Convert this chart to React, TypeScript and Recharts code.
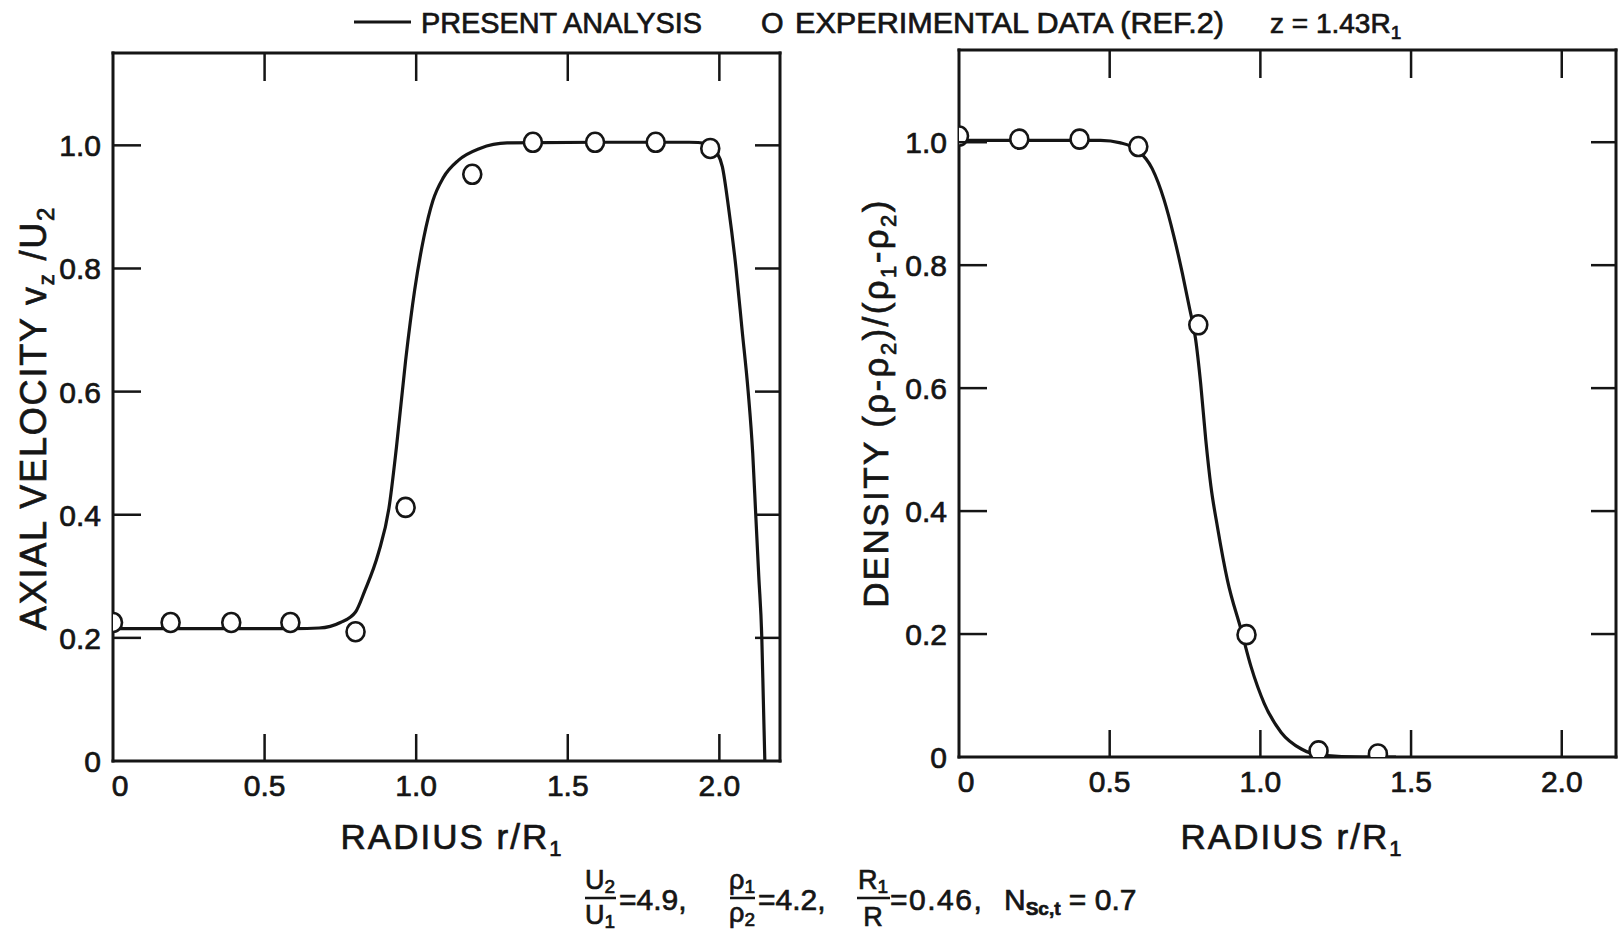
import React from "react";
import { ComposedChart, Line, Scatter, XAxis, YAxis } from "recharts";

const INK = "#151515";
const FONT = '"Liberation Sans", Arial, sans-serif';

// shared tick values
const xTicks = [0, 0.5, 1.0, 1.5, 2.0];
const yTicks = [0, 0.2, 0.4, 0.6, 0.8, 1.0];

// left panel: axial velocity vz/U2, present analysis
const velocityCurve = [
  { x: 0, y: 0.215 },
  { x: 0.3, y: 0.215 },
  { x: 0.6, y: 0.215 },
  { x: 0.68, y: 0.216 },
  { x: 0.75, y: 0.225 },
  { x: 0.8, y: 0.242 },
  { x: 0.83, y: 0.276 },
  { x: 0.875, y: 0.337 },
  { x: 0.91, y: 0.41 },
  { x: 0.935, y: 0.51 },
  { x: 0.965, y: 0.65 },
  { x: 0.995, y: 0.765 },
  { x: 1.025, y: 0.85 },
  { x: 1.055, y: 0.91 },
  { x: 1.09, y: 0.948 },
  { x: 1.14, y: 0.976 },
  { x: 1.21, y: 0.995 },
  { x: 1.3, y: 1.004 },
  { x: 1.6, y: 1.005 },
  { x: 1.9, y: 1.005 },
  { x: 1.96, y: 1.003 },
  { x: 1.99, y: 0.99 },
  { x: 2.01, y: 0.965 },
  { x: 2.03, y: 0.9 },
  { x: 2.055, y: 0.8 },
  { x: 2.075, y: 0.7 },
  { x: 2.095, y: 0.6 },
  { x: 2.11, y: 0.5 },
  { x: 2.12, y: 0.4 },
  { x: 2.13, y: 0.3 },
  { x: 2.14, y: 0.2 },
  { x: 2.145, y: 0.1 },
  { x: 2.15, y: 0 },
];

// left panel: experimental data (ref. 2)
const velocityPoints = [
  { x: 0, y: 0.225 },
  { x: 0.19, y: 0.225 },
  { x: 0.39, y: 0.225 },
  { x: 0.585, y: 0.225 },
  { x: 0.8, y: 0.21 },
  { x: 0.965, y: 0.412 },
  { x: 1.185, y: 0.953 },
  { x: 1.385, y: 1.005 },
  { x: 1.59, y: 1.005 },
  { x: 1.79, y: 1.005 },
  { x: 1.97, y: 0.995 },
];

// right panel: density (rho-rho2)/(rho1-rho2), present analysis
const densityCurve = [
  { x: 0, y: 1.003 },
  { x: 0.3, y: 1.003 },
  { x: 0.47, y: 1.003 },
  { x: 0.536, y: 0.999 },
  { x: 0.593, y: 0.987 },
  { x: 0.641, y: 0.957 },
  { x: 0.68, y: 0.907 },
  { x: 0.713, y: 0.847 },
  { x: 0.741, y: 0.787 },
  { x: 0.765, y: 0.73 },
  { x: 0.785, y: 0.68 },
  { x: 0.802, y: 0.607 },
  { x: 0.819, y: 0.515 },
  { x: 0.836, y: 0.44 },
  { x: 0.858, y: 0.373 },
  { x: 0.891, y: 0.287 },
  { x: 0.936, y: 0.207 },
  { x: 0.969, y: 0.147 },
  { x: 1.013, y: 0.087 },
  { x: 1.069, y: 0.04 },
  { x: 1.136, y: 0.013 },
  { x: 1.2, y: 0.003 },
  { x: 1.34, y: 0 },
  { x: 1.45, y: 0 },
];

// right panel: experimental data (ref. 2)
const densityPoints = [
  { x: 0, y: 1.01 },
  { x: 0.2, y: 1.005 },
  { x: 0.4, y: 1.005 },
  { x: 0.595, y: 0.993 },
  { x: 0.794, y: 0.703 },
  { x: 0.954, y: 0.199 },
  { x: 1.193, y: 0.01 },
  { x: 1.39, y: 0.005 },
];

const fmt = (v: number) => (v === 0 ? "0" : v.toFixed(1));
const axisLine = { stroke: INK, strokeWidth: 3, strokeLinecap: "square" as const };
// a thin outline makes the lettering a bit heavier, like the original
const txt = { fontFamily: FONT, fill: INK, stroke: INK, strokeWidth: 0.7 } as const;

// ticks are drawn inward, like the original frame
const BottomTick = ({ x, y, payload }: any) => {
  const v = payload.value;
  return (
    <g>
      {v !== 0 && <line x1={x} x2={x} y1={y} y2={y - 27} stroke={INK} strokeWidth={2.5} />}
      <text x={v === 0 ? x + 7 : x} y={y + 35} textAnchor="middle" fontSize={30} {...txt}>
        {fmt(v)}
      </text>
    </g>
  );
};

const LeftTick = ({ x, y, payload }: any) => {
  const v = payload.value;
  return (
    <g>
      {v !== 0 && <line x1={x} x2={x + 28} y1={y} y2={y} stroke={INK} strokeWidth={2.5} />}
      <text x={x - 12} y={y + 11} textAnchor="end" fontSize={30} {...txt}>
        {fmt(v)}
      </text>
    </g>
  );
};

const TopTick = ({ x, y, payload }: any) =>
  payload.value === 0 ? <g /> : <line x1={x} x2={x} y1={y} y2={y + 28} stroke={INK} strokeWidth={2.5} />;

const RightTick = ({ x, y, payload }: any) =>
  payload.value === 0 ? <g /> : <line x1={x} x2={x - 25} y1={y} y2={y} stroke={INK} strokeWidth={2.5} />;

const Ring = (props: any) => (
  <ellipse cx={props.cx} cy={props.cy} rx={9} ry={9.5} fill="#fff" stroke={INK} strokeWidth={2.6} />
);

function Panel({
  curve,
  points,
  xMax,
  width,
  height,
  leftW,
  rightW,
  topH,
}: {
  curve: { x: number; y: number }[];
  points: { x: number; y: number }[];
  xMax: number;
  width: number;
  height: number;
  leftW: number;
  rightW: number;
  topH: number;
}) {
  return (
    <ComposedChart
      width={width}
      height={height}
      data={curve}
      margin={{ top: 0, right: 0, bottom: 0, left: 0 }}
    >
      <XAxis
        dataKey="x"
        type="number"
        domain={[0, xMax]}
        ticks={xTicks}
        interval={0}
        height={100}
        tickSize={0}
        tickMargin={0}
        tickLine={false}
        tick={BottomTick}
        axisLine={axisLine}
        allowDataOverflow
      />
      <XAxis
        xAxisId="top"
        dataKey="x"
        orientation="top"
        type="number"
        domain={[0, xMax]}
        ticks={xTicks}
        interval={0}
        height={topH}
        tickSize={0}
        tickMargin={0}
        tickLine={false}
        tick={TopTick}
        axisLine={axisLine}
        allowDataOverflow
      />
      <YAxis
        dataKey="y"
        type="number"
        domain={[0, 1.15]}
        ticks={yTicks}
        interval={0}
        width={leftW}
        tickSize={0}
        tickMargin={0}
        tickLine={false}
        tick={LeftTick}
        axisLine={axisLine}
        allowDataOverflow
      />
      <YAxis
        yAxisId="right"
        dataKey="y"
        orientation="right"
        type="number"
        domain={[0, 1.15]}
        ticks={yTicks}
        interval={0}
        width={rightW}
        tickSize={0}
        tickMargin={0}
        tickLine={false}
        tick={RightTick}
        axisLine={axisLine}
        allowDataOverflow
      />
      <Line
        dataKey="y"
        type="monotone"
        stroke={INK}
        strokeWidth={3.2}
        dot={false}
        activeDot={false}
        isAnimationActive={false}
      />
      <Scatter data={points} dataKey="y" shape={Ring} isAnimationActive={false} />
    </ComposedChart>
  );
}

export default function App() {
  return (
    <div
      style={{
        position: "absolute",
        left: 0,
        top: 0,
        width: 1619,
        height: 939,
        background: "#fff",
        overflow: "hidden",
      }}
    >
      <div style={{ position: "absolute", left: 0, top: 0 }}>
        <Panel
          curve={velocityCurve}
          points={velocityPoints}
          xMax={2.2}
          width={800}
          height={861}
          leftW={113}
          rightW={20}
          topH={53}
        />
      </div>
      <div style={{ position: "absolute", left: 839, top: 0 }}>
        <Panel
          curve={densityCurve}
          points={densityPoints}
          xMax={2.18}
          width={780}
          height={857}
          leftW={120}
          rightW={3}
          topH={50}
        />
      </div>

      {/* legend, axis titles, parameters */}
      <svg
        width={1619}
        height={939}
        style={{ position: "absolute", left: 0, top: 0, pointerEvents: "none" }}
      >
        <line x1={354} x2={411} y1={22} y2={22} stroke={INK} strokeWidth={3} />
        <text x={421} y={33} fontSize={29} textLength={281} lengthAdjust="spacingAndGlyphs" {...txt}>
          PRESENT ANALYSIS
        </text>
        <text x={761} y={33} fontSize={29} {...txt}>O</text>
        <text x={795} y={33} fontSize={29} textLength={429} lengthAdjust="spacingAndGlyphs" {...txt}>
          EXPERIMENTAL DATA (REF.2)
        </text>
        <text x={1270} y={33} fontSize={28} {...txt}>
          z = 1.43R<tspan dy={6} fontSize={19}>1</tspan>
        </text>

        <text x={452} y={849} fontSize={35} letterSpacing={2} textAnchor="middle" {...txt}>
          RADIUS r/R<tspan dy={7} fontSize={22}>1</tspan>
        </text>
        <text x={1292} y={849} fontSize={35} letterSpacing={2} textAnchor="middle" {...txt}>
          RADIUS r/R<tspan dy={7} fontSize={22}>1</tspan>
        </text>

        <text
          transform="translate(46,418) rotate(-90)"
          fontSize={36}
          letterSpacing={1.8}
          textAnchor="middle"
          {...txt}
        >
          AXIAL VELOCITY v<tspan dy={8} fontSize={22}>z</tspan>
          <tspan dy={-8}> /U</tspan>
          <tspan dy={8} fontSize={24}>2</tspan>
        </text>
        <text
          transform="translate(888,403) rotate(-90)"
          fontSize={35}
          letterSpacing={2.4}
          textAnchor="middle"
          {...txt}
        >
          DENSITY (ρ-ρ<tspan dy={8} fontSize={22}>2</tspan>
          <tspan dy={-8}>)/(ρ</tspan>
          <tspan dy={8} fontSize={22}>1</tspan>
          <tspan dy={-8}>-ρ</tspan>
          <tspan dy={8} fontSize={22}>2</tspan>
          <tspan dy={-8}>)</tspan>
        </text>

        {/* U2/U1 */}
        <text x={600} y={889} fontSize={27} textAnchor="middle" {...txt}>
          U<tspan dy={4} fontSize={19}>2</tspan>
        </text>
        <line x1={585} x2={616} y1={898} y2={898} stroke={INK} strokeWidth={2.5} />
        <text x={600} y={924} fontSize={27} textAnchor="middle" {...txt}>
          U<tspan dy={4} fontSize={19}>1</tspan>
        </text>
        <text x={619} y={910} fontSize={30} {...txt}>=4.9,</text>

        {/* rho1/rho2 */}
        <text x={742} y={889} fontSize={27} textAnchor="middle" {...txt}>
          ρ<tspan dy={4} fontSize={19}>1</tspan>
        </text>
        <line x1={730} x2={755} y1={898} y2={898} stroke={INK} strokeWidth={2.5} />
        <text x={742} y={922} fontSize={27} textAnchor="middle" {...txt}>
          ρ<tspan dy={4} fontSize={19}>2</tspan>
        </text>
        <text x={758} y={910} fontSize={30} {...txt}>=4.2,</text>

        {/* R1/R */}
        <text x={873} y={889} fontSize={27} textAnchor="middle" {...txt}>
          R<tspan dy={4} fontSize={19}>1</tspan>
        </text>
        <line x1={857} x2={890} y1={898} y2={898} stroke={INK} strokeWidth={2.5} />
        <text x={873} y={926} fontSize={27} textAnchor="middle" {...txt}>R</text>
        <text x={890} y={910} fontSize={30} letterSpacing={1.5} {...txt}>=0.46,</text>

        <text x={1004} y={910} fontSize={30} {...txt}>
          N<tspan dy={5} fontSize={19} fontWeight="bold">Sc,t</tspan>
          <tspan dy={-5}> = 0.7</tspan>
        </text>
      </svg>
    </div>
  );
}
